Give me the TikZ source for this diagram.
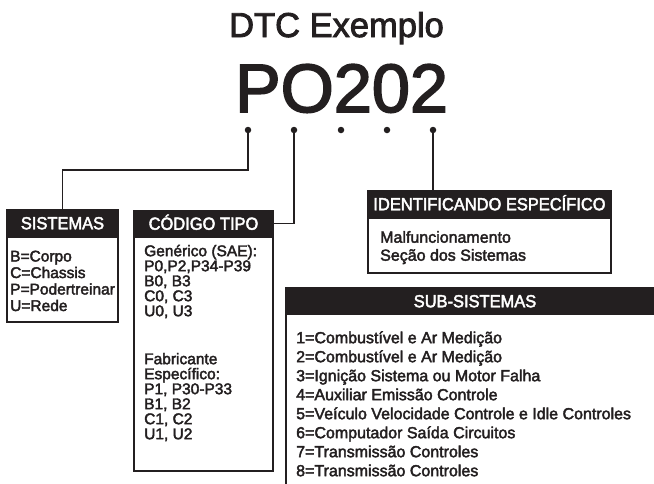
\documentclass[tikz,border=0pt]{standalone}
\usepackage{fontspec}
\setmainfont{Liberation Sans}
\newfontfamily\medfont[FakeBold=2.5]{Liberation Sans}
\newfontfamily\hdrfont[FakeBold=2.5,FakeStretch=0.94]{Liberation Sans}
\definecolor{ink}{HTML}{231F20}
\begin{document}
\begin{tikzpicture}[x=1pt,y=-1pt,
  hdr/.style={fill=ink, text=white, font=\hdrfont\fontsize{17.5}{17.5}\selectfont, minimum height=28pt, text height=12.5pt, text depth=0pt, inner sep=0pt},
  bodybox/.style={draw=ink, line width=2pt, fill=white, inner sep=0pt},
  txt/.style={anchor=base west, inner sep=0pt, text=ink, font=\medfont\fontsize{15.5}{15.5}\selectfont},
  txtb/.style={txt, font=\medfont\fontsize{16}{16}\selectfont},
  dotn/.style={circle, fill=ink, minimum size=6.5pt, inner sep=0pt},
  conn/.style={draw=ink, line width=1.2pt}]
\useasboundingbox (0,0) rectangle (654,483);
% title
\node[anchor=base, inner sep=0pt, text=ink, font=\medfont\fontsize{34.5}{34.5}\selectfont] (title) at (336.5,37) {DTC Exemplo};
\node[anchor=base, inner sep=0pt, text=ink, font=\medfont\fontsize{68.4}{68.4}\selectfont] (code) at (341.5,112) {PO202};
% dots
\node[dotn] (d1) at (248,130) {};
\node[dotn] (d2) at (294,130) {};
\node[dotn] (d3) at (341,130) {};
\node[dotn] (d4) at (387,130) {};
\node[dotn] (d5) at (433,130) {};
% bodies
\node[bodybox, minimum width=111.3pt, minimum height=84.5pt] (bS) at (62.65,279.25) {};
\node[bodybox, minimum width=139pt, minimum height=234.3pt] (bC) at (203.5,354.2) {};
\node[bodybox, minimum width=243pt, minimum height=54.8pt] (bI) at (489.5,245.4) {};
% headers
\node[hdr, minimum width=113pt] (hS) at (62.5,223) {SISTEMAS};
\node[hdr, minimum width=141pt] (hC) at (203.5,223.5) {CÓDIGO TIPO};
\node[hdr, minimum width=245pt] (hI) at (489.5,204) {IDENTIFICANDO ESPECÍFICO};
\node[hdr, minimum width=380pt] (hU) at (475,301) {SUB-SISTEMAS};
\coordinate (uTop) at (286,315);
\coordinate (uBot) at (286,484);
\draw[draw=ink, line width=2pt] (uTop) -- (uBot);
% connectors
\draw[conn] (d1.center) -- ++(0,40) -| (hS.north);
\draw[conn] (d2.center) |- (hC.east);
\draw[conn] (d5.center) -- (d5 |- hI.north);
% SISTEMAS text
\node[txt] (s1) at (10,261.5) {B=Corpo};
\node[txt] (s2) at (10,278) {C=Chassis};
\node[txt] (s3) at (10,294.5) {P=Podertreinar};
\node[txt] (s4) at (10,311) {U=Rede};
% CODIGO text
\node[txt] (c1) at (144,256.2) {Genérico (SAE):};
\node[txt] (c2) at (144,271.2) {P0,P2,P34-P39};
\node[txt] (c3) at (144,286.2) {B0, B3};
\node[txt] (c4) at (144,301.2) {C0, C3};
\node[txt] (c5) at (144,316.2) {U0, U3};
\node[txt] (c6) at (144,364.2) {Fabricante};
\node[txt] (c7) at (144,379.2) {Específico:};
\node[txt] (c8) at (144,394.2) {P1, P30-P33};
\node[txt] (c9) at (144,409.2) {B1, B2};
\node[txt] (c10) at (144,424.2) {C1, C2};
\node[txt] (c11) at (144,439.2) {U1, U2};
% IDENT text
\node[txtb] (i1) at (380,242.7) {Malfuncionamento};
\node[txtb] (i2) at (380,260.7) {Seção dos Sistemas};
% SUB text
\node[txtb] (u1) at (296,343.2) {1=Combustível e Ar Medição};
\node[txtb] (u2) at (296,362.2) {2=Combustível e Ar Medição};
\node[txtb] (u3) at (296,381.2) {3=Ignição Sistema ou Motor Falha};
\node[txtb] (u4) at (296,400.2) {4=Auxiliar Emissão Controle};
\node[txtb] (u5) at (296,419.2) {5=Veículo Velocidade Controle e Idle Controles};
\node[txtb] (u6) at (296,438.2) {6=Computador Saída Circuitos};
\node[txtb] (u7) at (296,457.2) {7=Transmissão Controles};
\node[txtb] (u8) at (296,476.2) {8=Transmissão Controles};
\end{tikzpicture}
\end{document}
